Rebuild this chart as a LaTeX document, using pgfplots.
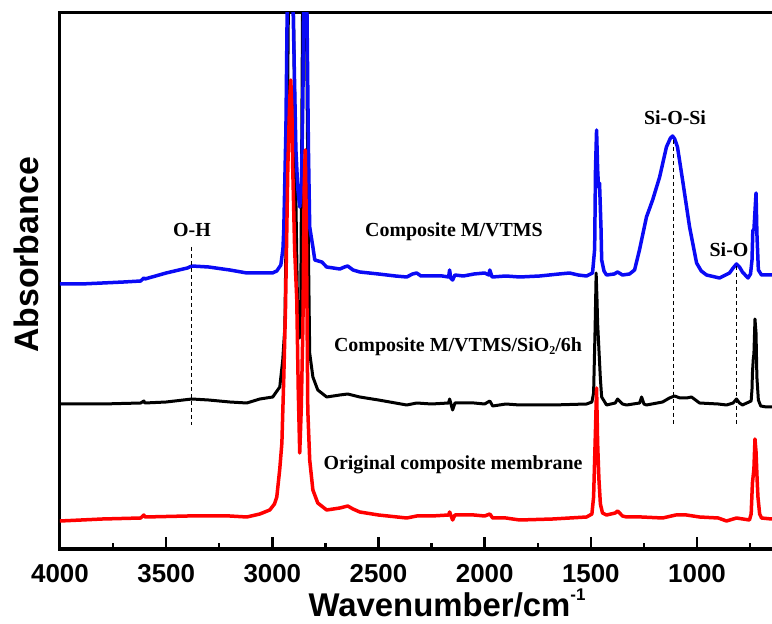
\documentclass[border=0pt]{standalone}
\usepackage{fontspec}
\setmainfont{Liberation Serif}
\newfontfamily\arial{Liberation Sans}
\usepackage{pgfplots}
\pgfplotsset{compat=1.18}
\definecolor{cblue}{RGB}{10,10,245}
\definecolor{cred}{RGB}{255,0,0}
\begin{document}
\begin{tikzpicture}
\useasboundingbox (-60bp,-75bp) rectangle (712bp,549bp);
\begin{axis}[
  at={(0bp,0bp)}, anchor=south west, scale only axis,
  width=716bp, height=536bp,
  xmin=628, xmax=4000, x dir=reverse,
  ymin=0, ymax=536,
  xtick={1000,1500,2000,2500,3000,3500,4000},
  xticklabels={1000,1500,2000,2500,3000,3500,4000},
  minor xtick={750,1250,1750,2250,2750,3250,3750},
  ytick=\empty,
  tick align=inside, xtick pos=bottom,
  major tick length=12bp, minor tick length=6bp,
  every tick/.style={line width=2.5bp, black},
  axis line style={line width=3bp},
  xticklabel style={font=\arial\bfseries\fontsize{26}{26}\selectfont, inner sep=0pt, anchor=north, yshift=-15bp},
  every axis plot/.append style={line join=round, line cap=round},
]
% Composite M/VTMS/SiO2/6h (black)
\addplot[black, line width=3bp] coordinates {
(4000,145) (3800,145) (3620,146) (3605,148) (3600,146) (3500,147) (3379,150)
(3300,149) (3200,147) (3120,146) (3059,150) (2998,152) (2965,162) (2951,189)
(2941,222) (2930,400) (2918,700) (2904,600) (2889,350) (2880,225) (2875,211)
(2871,211) (2866,250) (2856,600) (2847,700) (2838,500) (2830,300) (2824,196)
(2809,172) (2786,159) (2744,152) (2682,154) (2645,155) (2588,152) (2500,149)
(2367,144) (2320,146) (2250,145) (2170,146) (2165,150) (2151,139) (2140,146)
(2050,146) (2000,145) (1976,148) (1962,143) (1900,145) (1835,144) (1680,144)
(1520,145) (1495,147) (1487,156) (1480,220) (1475,276) (1471,250) (1468,226)
(1462,200) (1455,170) (1449,152) (1426,144) (1385,146) (1374,150) (1351,145)
(1332,144) (1270,146) (1261,152) (1250,145) (1238,144) (1162,147) (1130,151)
(1106,153) (1080,151) (1049,151) (1026,152) (988,146) (900,145) (861,144)
(830,146) (814,150) (800,146) (786,144) (745,148) (741,160) (739,176)
(735,190) (732,195) (727,230) (722,216) (718,172) (711,149) (700,143)
(673,142) (628,142)
};
% Composite M/VTMS (blue)
\addplot[cblue, line width=3.5bp] coordinates {
(4000,265) (3900,265) (3800,266) (3700,267) (3620,268) (3605,271) (3600,270)
(3500,276) (3400,281) (3379,283) (3300,282) (3200,279) (3120,276) (3050,276)
(3000,276) (2979,278) (2960,284) (2950,300) (2946,320) (2936,420) (2927,600)
(2918,700) (2904,560) (2889,399) (2880,360) (2871,342) (2863,360) (2856,450)
(2847,700) (2838,560) (2830,400) (2824,322) (2809,302) (2800,289) (2767,287)
(2744,282) (2682,280) (2660,282) (2645,283) (2620,279) (2588,277) (2500,275)
(2420,273) (2367,272) (2340,275) (2320,276) (2300,273) (2250,273) (2200,273)
(2170,272) (2165,279) (2160,271) (2151,269) (2140,274) (2100,273) (2050,275)
(2000,276) (1980,274) (1976,279) (1965,272) (1900,273) (1835,272) (1741,273)
(1650,275) (1600,276) (1560,274) (1520,273) (1492,276) (1482,300) (1478,380)
(1473,419) (1468,380) (1464,362) (1459,366) (1452,320) (1449,289) (1438,278)
(1426,274) (1390,275) (1374,277) (1351,274) (1318,275) (1294,279) (1271,299)
(1238,332) (1209,349) (1176,372) (1144,402) (1125,411) (1115,413) (1105,410)
(1092,402) (1068,369) (1035,322) (1002,286) (980,278) (955,274) (894,271)
(847,276) (830,281) (814,285) (800,282) (786,277) (760,271) (748,275)
(741,289) (737,319) (732,319) (722,356) (718,316) (711,279) (696,274)
(673,274) (628,274)
};
% Original composite membrane (red)
\addplot[cred, line width=3.5bp] coordinates {
(4000,28) (3800,30) (3620,31) (3605,34) (3600,32) (3400,33) (3341,33)
(3200,33) (3120,32) (3059,35) (3012,39) (2990,45) (2979,52) (2965,80)
(2955,106) (2946,172) (2938,240) (2927,382) (2918,450) (2913,469) (2908,440)
(2904,382) (2895,300) (2885,250) (2878,160) (2871,96) (2864,139) (2856,222)
(2850,360) (2845,399) (2840,330) (2833,139) (2824,89) (2809,59) (2786,46)
(2744,39) (2682,41) (2645,43) (2620,40) (2588,37) (2500,34) (2367,31)
(2320,33) (2250,33) (2170,34) (2165,37) (2151,29) (2140,34) (2050,34)
(2000,33) (1976,35) (1962,31) (1900,31) (1835,29) (1680,30) (1600,31)
(1520,32) (1495,35) (1487,52) (1478,120) (1473,161) (1468,106) (1462,70)
(1455,45) (1445,36) (1426,34) (1385,36) (1374,38) (1351,33) (1332,32)
(1261,32) (1162,31) (1100,34) (1049,34) (988,32) (900,31) (861,28)
(814,31) (753,29) (745,35) (739,66) (732,80) (727,110) (722,97) (717,70)
(713,52) (705,35) (696,31) (650,30) (628,30)
};
\draw[black, line width=1.2bp, dash pattern=on 4bp off 3bp] (axis cs:3379,302) -- (axis cs:3379,124);
\draw[black, line width=1.2bp, dash pattern=on 4bp off 3bp] (axis cs:1112,409) -- (axis cs:1112,124);
\draw[black, line width=1.2bp, dash pattern=on 4bp off 3bp] (axis cs:814,283) -- (axis cs:814,124);
\end{axis}
\begin{scope}[every node/.style={inner sep=0pt, font=\bfseries\fontsize{20}{20}\selectfont}]
\node[anchor=base] at (132bp,312bp) {O-H};
\node[anchor=base] at (394bp,312bp) {Composite M/VTMS};
\node[anchor=base] at (398bp,197bp) {Composite M/VTMS/SiO\raisebox{-3bp}{\fontsize{12}{12}\selectfont 2}/6h};
\node[anchor=base] at (393bp,79bp) {Original composite membrane};
\node[anchor=base] at (615bp,424bp) {Si-O-Si};
\node[anchor=base] at (669bp,292bp) {Si-O};
\end{scope}
\node[anchor=base, inner sep=0pt, font=\arial\bfseries\fontsize{33}{33}\selectfont] at (387bp,-67bp) {Wavenumber/cm\raisebox{16bp}{\fontsize{17}{17}\selectfont -1}};
\node[anchor=base, rotate=90, inner sep=0pt, font=\arial\bfseries\fontsize{34}{34}\selectfont] at (-22bp,294bp) {Absorbance};
\end{tikzpicture}
\end{document}
